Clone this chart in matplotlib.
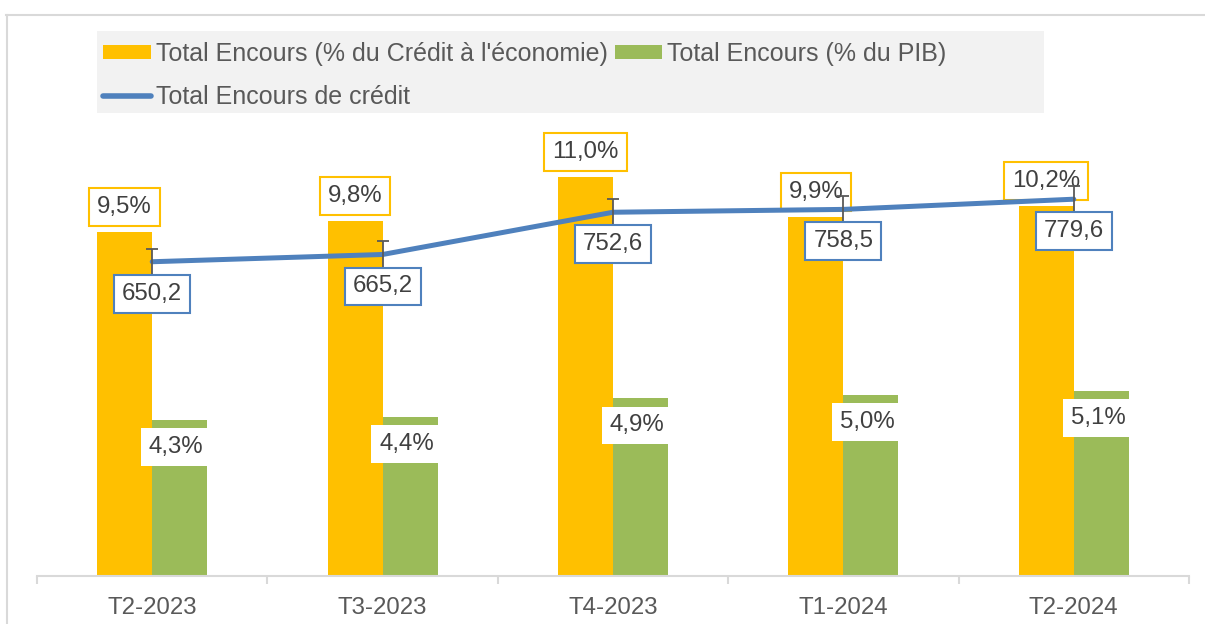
import numpy as np
import matplotlib.pyplot as plt
from matplotlib.lines import Line2D
from matplotlib.patches import Rectangle, Patch

plt.rcParams["font.family"] = ["Liberation Sans", "DejaVu Sans"]

categories = ["T2-2023", "T3-2023", "T4-2023", "T1-2024", "T2-2024"]
credit_eco_pct = [9.5, 9.8, 11.0, 9.9, 10.2]
pib_pct = [4.3, 4.4, 4.9, 5.0, 5.1]
encours_total = [650.2, 665.2, 752.6, 758.5, 779.6]
err_size = 27

label_eco = "Total Encours (% du Crédit à l'économie)"
label_pib = "Total Encours (% du PIB)"
label_line = "Total Encours de crédit"

orange = "#FFC000"
green = "#9BBB59"
blue = "#4F81BD"
text_dark = "#404040"
text_grey = "#595959"
grid_grey = "#D9D9D9"
fs = 17.3
fs_leg = 18


def fmt(v, suffix=""):
    return f"{v:.1f}".replace(".", ",") + suffix


fig = plt.figure(figsize=(12.05, 6.24), dpi=100)
ax = fig.add_axes([37 / 1205, 48 / 624, 1152 / 1205, 435 / 624])
ax2 = ax.twinx()

x = np.arange(len(categories))
w = 0.239

ax.bar(x - w / 2, credit_eco_pct, width=w, color=orange, zorder=2)
ax.bar(x + w / 2, pib_pct, width=w, color=green, zorder=2)

for i, v in enumerate(credit_eco_pct):
    ax.annotate(fmt(v, "%"), (x[i] - w / 2, v), xytext=(0, 18), textcoords="offset points",
                ha="center", va="center", fontsize=fs, color=text_dark, zorder=5,
                bbox=dict(boxstyle="square,pad=0.33", fc="white", ec=orange, lw=1.5))

for i, v in enumerate(pib_pct):
    ax.annotate(fmt(v, "%"), (x[i] + w / 2 - 0.015, v), xytext=(0, -19.5), textcoords="offset points",
                ha="center", va="center", fontsize=fs, color=text_dark, zorder=5,
                bbox=dict(boxstyle="square,pad=0.33", fc="white", ec="none"))

ax2.plot(x, encours_total, color=blue, lw=3.6, solid_capstyle="round", zorder=3)
ax2.errorbar(x, encours_total, yerr=err_size, fmt="none", ecolor=text_grey,
             elinewidth=1.3, capsize=4.5, capthick=1.3, zorder=4)

for i, v in enumerate(encours_total):
    ax2.annotate(fmt(v), (x[i], v), xytext=(0, -23), textcoords="offset points",
                 ha="center", va="center", fontsize=fs, color=text_dark, zorder=6,
                 bbox=dict(boxstyle="square,pad=0.33", fc="white", ec=blue, lw=1.5))

ax.set_ylim(0, 12)
ax2.set_ylim(0, 900)
ax.set_xlim(-0.5, len(categories) - 0.5)

for a in (ax, ax2):
    for s in ("top", "right", "left"):
        a.spines[s].set_visible(False)
    a.set_yticks([])
ax2.spines["bottom"].set_visible(False)
ax.spines["bottom"].set_color(grid_grey)
ax.spines["bottom"].set_linewidth(1.5)

ax.set_xticks(x)
ax.set_xticklabels(categories, fontsize=fs, color=text_grey)
ax.tick_params(axis="x", which="major", length=0, pad=15)
ax.set_xticks(np.arange(-0.5, len(categories)), minor=True)
ax.tick_params(axis="x", which="minor", length=6, width=1.5, color=grid_grey)

# legend background and chart frame
fig.patches.append(Rectangle((97 / 1205, 1 - 113 / 624), 947 / 1205, 82 / 624,
                             transform=fig.transFigure, fc="#F2F2F2", ec="none", zorder=0))
fig.lines.append(Line2D([6 / 1205, 1], [1 - 14.5 / 624] * 2, transform=fig.transFigure,
                        color=grid_grey, lw=1.5))
fig.lines.append(Line2D([6.5 / 1205] * 2, [0, 1 - 14.5 / 624], transform=fig.transFigure,
                        color=grid_grey, lw=1.5))

handles = [Patch(fc=orange, ec="none"),
           Line2D([], [], color=blue, lw=4, solid_capstyle="round"),
           Patch(fc=green, ec="none")]
labels = [label_eco, label_line, label_pib]
leg = fig.legend(handles, labels, ncol=2, loc="upper left",
                 bbox_to_anchor=(103 / 1205, 1 - 42 / 624), bbox_transform=fig.transFigure,
                 frameon=False, fontsize=fs_leg, handlelength=1.9, handleheight=0.5,
                 handletextpad=0.2, columnspacing=0.3, labelspacing=0.75,
                 borderpad=0, borderaxespad=0)
for t in leg.get_texts():
    t.set_color(text_grey)

fig.savefig("out.png", dpi=100)
